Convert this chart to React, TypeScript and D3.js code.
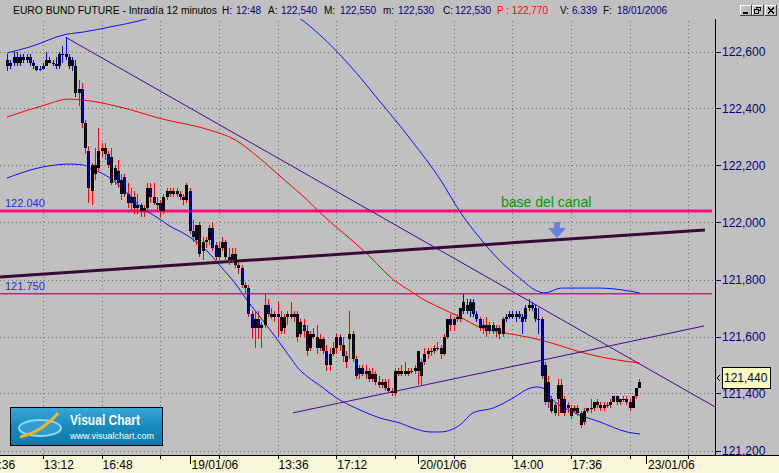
import * as d3 from 'd3';

const W = 779;
const H = 473;
const plotRight = 715;
const plotTop = 19;
const plotBottom = 455;

// 12-minute bars [open, high, low, close], 18/01/06 11:00 -> 20/01/06 close
const bars: [number, number, number, number][] = [
  [122.57, 122.59, 122.53, 122.55], [122.55, 122.57, 122.54, 122.56], [122.56, 122.60, 122.55, 122.58],
  [122.58, 122.60, 122.55, 122.56], [122.56, 122.59, 122.55, 122.58], [122.58, 122.59, 122.56, 122.57],
  [122.57, 122.59, 122.56, 122.58], [122.58, 122.59, 122.55, 122.56], [122.56, 122.57, 122.54, 122.55],
  [122.55, 122.55, 122.53, 122.535], [122.535, 122.55, 122.53, 122.54], [122.54, 122.56, 122.54, 122.55],
  [122.55, 122.60, 122.55, 122.57], [122.57, 122.58, 122.56, 122.56], [122.56, 122.57, 122.55, 122.555],
  [122.555, 122.58, 122.54, 122.55], [122.55, 122.60, 122.54, 122.59], [122.59, 122.62, 122.56, 122.59],
  [122.59, 122.65, 122.57, 122.58], [122.58, 122.59, 122.54, 122.55], [122.55, 122.58, 122.53, 122.57],
  [122.55, 122.57, 122.44, 122.455], [122.455, 122.50, 122.41, 122.47], [122.47, 122.49, 122.33, 122.35],
  [122.35, 122.36, 122.24, 122.26], [122.25, 122.27, 122.07, 122.12], [122.11, 122.21, 122.06, 122.20],
  [122.17, 122.26, 122.15, 122.20], [122.19, 122.33, 122.18, 122.25], [122.25, 122.28, 122.23, 122.26],
  [122.26, 122.28, 122.22, 122.24], [122.24, 122.25, 122.19, 122.20], [122.23, 122.26, 122.13, 122.14],
  [122.15, 122.20, 122.13, 122.19], [122.18, 122.22, 122.12, 122.14], [122.15, 122.17, 122.08, 122.10],
  [122.16, 122.17, 122.09, 122.10], [122.10, 122.14, 122.05, 122.07], [122.07, 122.12, 122.04, 122.09],
  [122.09, 122.11, 122.03, 122.05], [122.05, 122.10, 122.03, 122.06], [122.06, 122.07, 122.02, 122.04],
  [122.04, 122.06, 122.02, 122.05], [122.05, 122.14, 122.04, 122.12], [122.12, 122.14, 122.07, 122.09],
  [122.09, 122.14, 122.06, 122.07], [122.07, 122.09, 122.04, 122.06], [122.07, 122.08, 122.02, 122.04],
  [122.04, 122.10, 122.03, 122.09], [122.09, 122.12, 122.08, 122.11], [122.11, 122.12, 122.09, 122.10],
  [122.10, 122.12, 122.09, 122.11], [122.11, 122.12, 122.09, 122.10], [122.10, 122.11, 122.08, 122.09],
  [122.09, 122.10, 122.06, 122.08], [122.08, 122.14, 122.07, 122.13], [122.11, 122.12, 121.96, 121.97],
  [121.97, 122.01, 121.93, 121.95], [121.94, 121.99, 121.92, 121.99], [121.99, 122.00, 121.88, 121.89],
  [121.90, 121.95, 121.87, 121.93], [121.93, 121.95, 121.91, 121.94], [121.94, 121.99, 121.92, 121.98],
  [121.98, 122.00, 121.90, 121.91], [121.92, 121.93, 121.87, 121.88], [121.88, 121.93, 121.86, 121.91],
  [121.91, 121.95, 121.90, 121.93], [121.93, 121.94, 121.87, 121.88], [121.88, 121.91, 121.85, 121.87],
  [121.87, 121.91, 121.86, 121.89], [121.89, 121.91, 121.84, 121.85], [121.85, 121.86, 121.82, 121.84],
  [121.84, 121.85, 121.77, 121.78], [121.78, 121.79, 121.75, 121.77], [121.77, 121.78, 121.67, 121.68],
  [121.68, 121.69, 121.59, 121.63], [121.63, 121.69, 121.56, 121.66], [121.66, 121.69, 121.59, 121.63],
  [121.63, 121.65, 121.56, 121.64], [121.64, 121.75, 121.63, 121.71], [121.71, 121.73, 121.67, 121.68],
  [121.68, 121.70, 121.66, 121.67], [121.67, 121.69, 121.65, 121.68], [121.68, 121.72, 121.60, 121.67],
  [121.67, 121.69, 121.61, 121.62], [121.63, 121.68, 121.61, 121.67], [121.67, 121.69, 121.64, 121.68],
  [121.68, 121.72, 121.66, 121.67], [121.67, 121.69, 121.65, 121.68], [121.68, 121.69, 121.58, 121.60],
  [121.61, 121.66, 121.60, 121.65], [121.64, 121.66, 121.60, 121.62], [121.62, 121.64, 121.53, 121.55],
  [121.56, 121.62, 121.55, 121.61], [121.61, 121.63, 121.59, 121.60], [121.60, 121.64, 121.54, 121.56],
  [121.56, 121.61, 121.55, 121.59], [121.59, 121.60, 121.54, 121.55], [121.55, 121.57, 121.48, 121.50],
  [121.50, 121.56, 121.48, 121.54], [121.54, 121.58, 121.53, 121.56], [121.56, 121.61, 121.54, 121.60],
  [121.60, 121.61, 121.55, 121.57], [121.57, 121.60, 121.51, 121.53], [121.53, 121.55, 121.49, 121.51],
  [121.59, 121.69, 121.52, 121.61], [121.61, 121.62, 121.51, 121.52], [121.52, 121.53, 121.45, 121.46],
  [121.47, 121.50, 121.45, 121.49], [121.49, 121.50, 121.46, 121.47], [121.47, 121.50, 121.45, 121.48],
  [121.48, 121.49, 121.44, 121.45], [121.45, 121.49, 121.44, 121.47], [121.47, 121.48, 121.43, 121.44],
  [121.44, 121.46, 121.42, 121.43], [121.43, 121.45, 121.42, 121.44], [121.44, 121.45, 121.41, 121.42],
  [121.42, 121.45, 121.40, 121.41], [121.41, 121.42, 121.39, 121.40], [121.40, 121.49, 121.39, 121.48],
  [121.48, 121.49, 121.46, 121.47], [121.47, 121.50, 121.46, 121.48], [121.48, 121.51, 121.46, 121.47],
  [121.47, 121.49, 121.46, 121.48], [121.48, 121.49, 121.47, 121.48], [121.48, 121.50, 121.47, 121.49],
  [121.48, 121.55, 121.43, 121.55], [121.51, 121.52, 121.43, 121.46], [121.51, 121.56, 121.50, 121.54],
  [121.54, 121.56, 121.52, 121.55], [121.55, 121.56, 121.53, 121.55], [121.55, 121.57, 121.54, 121.56],
  [121.56, 121.58, 121.55, 121.56], [121.56, 121.57, 121.52, 121.54], [121.54, 121.61, 121.53, 121.60],
  [121.60, 121.66, 121.59, 121.66], [121.66, 121.68, 121.62, 121.64], [121.64, 121.67, 121.62, 121.66],
  [121.66, 121.68, 121.65, 121.67], [121.66, 121.70, 121.65, 121.70], [121.69, 121.75, 121.68, 121.72],
  [121.71, 121.73, 121.68, 121.69], [121.69, 121.73, 121.67, 121.72], [121.72, 121.73, 121.67, 121.68],
  [121.68, 121.69, 121.65, 121.66], [121.66, 121.67, 121.62, 121.63], [121.63, 121.66, 121.61, 121.64],
  [121.64, 121.67, 121.60, 121.62], [121.62, 121.65, 121.61, 121.64], [121.64, 121.65, 121.61, 121.62],
  [121.62, 121.64, 121.60, 121.63], [121.63, 121.64, 121.59, 121.61], [121.61, 121.67, 121.60, 121.66],
  [121.66, 121.68, 121.65, 121.67], [121.67, 121.69, 121.66, 121.68], [121.68, 121.69, 121.66, 121.67],
  [121.67, 121.69, 121.65, 121.68], [121.68, 121.69, 121.66, 121.67], [121.67, 121.68, 121.61, 121.65],
  [121.66, 121.71, 121.65, 121.70], [121.70, 121.73, 121.69, 121.71], [121.71, 121.72, 121.69, 121.70],
  [121.70, 121.71, 121.65, 121.66], [121.66, 121.70, 121.61, 121.66], [121.66, 121.67, 121.45, 121.46],
  [121.50, 121.51, 121.36, 121.37], [121.44, 121.46, 121.35, 121.37], [121.38, 121.39, 121.33, 121.34],
  [121.36, 121.37, 121.32, 121.33], [121.38, 121.45, 121.32, 121.43], [121.43, 121.45, 121.33, 121.33],
  [121.38, 121.39, 121.32, 121.33], [121.35, 121.37, 121.33, 121.36], [121.35, 121.36, 121.31, 121.32],
  [121.34, 121.36, 121.33, 121.35], [121.35, 121.36, 121.32, 121.33], [121.33, 121.34, 121.28, 121.29],
  [121.30, 121.35, 121.29, 121.34], [121.34, 121.35, 121.33, 121.35], [121.35, 121.38, 121.33, 121.35],
  [121.35, 121.37, 121.34, 121.37], [121.37, 121.38, 121.35, 121.36], [121.36, 121.37, 121.34, 121.35],
  [121.35, 121.37, 121.34, 121.36], [121.36, 121.37, 121.35, 121.36], [121.36, 121.38, 121.35, 121.37],
  [121.37, 121.39, 121.37, 121.39], [121.39, 121.39, 121.36, 121.37], [121.37, 121.38, 121.36, 121.38],
  [121.38, 121.39, 121.37, 121.38], [121.38, 121.39, 121.36, 121.37], [121.37, 121.38, 121.34, 121.35],
  [121.35, 121.39, 121.35, 121.39], [121.39, 121.42, 121.38, 121.42], [121.42, 121.45, 121.42, 121.44],
];

// indicator lines: [bar index, price]
const maLine: [number, number][] = [
  [0, 122.37], [11, 122.41], [19, 122.433], [23, 122.43], [31, 122.415], [38, 122.395], [47, 122.365],
  [62, 122.325], [70, 122.29], [77, 122.23], [85, 122.15], [92, 122.08], [96, 122.035], [110, 121.895],
  [119, 121.795], [123, 121.765], [127, 121.735], [133, 121.70], [139, 121.668], [145, 121.633],
  [153, 121.612], [161, 121.595], [167, 121.577], [177, 121.542], [187, 121.518], [194, 121.507],
];
const upperBand: [number, number][] = [
  [0, 122.595], [7, 122.616], [18.4, 122.661], [23.3, 122.668], [31.6, 122.686], [41.7, 122.711],
  [53, 122.753], [68, 122.774], [81, 122.753], [90, 122.714], [96, 122.658], [105, 122.553],
  [114, 122.43], [124, 122.289], [133, 122.149], [139, 122.037], [145, 121.946], [151, 121.868],
  [158, 121.798], [162, 121.763], [165, 121.753], [170, 121.77], [182, 121.77], [194, 121.753],
];
const lowerBand: [number, number][] = [
  [0, 122.156], [11, 122.195], [19.3, 122.205], [23.3, 122.202], [25.5, 122.191], [31.6, 122.156],
  [36.2, 122.111], [41.4, 122.051], [46.3, 122.016], [49.4, 121.991], [55.5, 121.953], [62.3, 121.889],
  [66, 121.84], [69.9, 121.788], [73.6, 121.728], [79.8, 121.637], [83.7, 121.577], [86.8, 121.528],
  [89.3, 121.489], [92.3, 121.458], [96.6, 121.423], [100.6, 121.388], [108.3, 121.342], [114.4, 121.314],
  [120.6, 121.296], [124.5, 121.279], [129.8, 121.265], [132.8, 121.265], [139, 121.29], [142.9, 121.332],
  [149.1, 121.349], [155.2, 121.384], [160.4, 121.419], [162.6, 121.423], [164.4, 121.419], [167.5, 121.377],
  [173.6, 121.335], [181.9, 121.30], [190.2, 121.265], [194.2, 121.258],
];

// hand-drawn lines
const downTrend: [number, number][] = [[18, 122.65], [217.2, 121.353]];
const upTrend: [number, number][] = [[87.7, 121.332], [213.8, 121.637]];
const channel: [number, number][] = [[-2.1, 121.809], [214.1, 121.974]];
const levels = [122.04, 121.75];
const levelLabels = ['122.040', '121.750'];

const yTicks = [122.6, 122.4, 122.2, 122.0, 121.8, 121.6, 121.4, 121.2];
const xTickBars = [-7, 11, 29, 47, 65, 83, 101, 119, 137, 155, 173, 191, 209];
const xTickLabels = ['09:36', '13:12', '16:48', '', '', '13:36', '17:12', '', '', '14:00', '17:36', '', ''];
const dayBars = [56, 126, 196];
const dayLabels = ['19/01/06', '20/01/06', '23/01/06'];

const header: [string, number, string][] = [
  ['EURO BUND FUTURE - Intradía 12 minutos', 13, '#000'],
  ['H:', 222, '#000'], ['12:48', 236, '#00007c'],
  ['A:', 268, '#000'], ['122,540', 281, '#00007c'],
  ['M:', 324, '#000'], ['122,550', 340, '#00007c'],
  ['m:', 383, '#000'], ['122,530', 398, '#00007c'],
  ['C:', 443, '#000'], ['122,530', 455, '#00007c'],
  ['P : 122,770', 497, '#ff0000'],
  ['V:', 560, '#000'], ['6.339', 572, '#00007c'],
  ['F:', 603, '#000'], ['18/01/2006', 617, '#00007c'],
];

const font = "'Liberation Sans', Arial, sans-serif";

export default function App() {
  const x = d3.scaleLinear().domain([0, 194]).range([7, 7 + 194 * 3.26]);
  const y = d3.scaleLinear().domain([121.2, 122.6]).range([450.5, 51.5]);
  const maAt = d3.scaleLinear().domain(maLine.map(d => d[0])).range(maLine.map(d => d[1])).clamp(true);

  const smooth = d3.line<[number, number]>().x(d => x(d[0])).y(d => y(d[1])).curve(d3.curveMonotoneX);
  const straight = d3.line<[number, number]>().x(d => x(d[0])).y(d => y(d[1]));

  const last = bars[bars.length - 1][3];
  const tagY = Math.round(y(last)) - 4;

  return (
    <svg width={W} height={H} viewBox={`0 0 ${W} ${H}`}
      style={{ position: 'absolute', left: 0, top: 0, display: 'block' }}>
      <defs>
        <clipPath id="plot">
          <rect x={0} y={plotTop} width={plotRight} height={plotBottom - plotTop} />
        </clipPath>
        <linearGradient id="vc" x1="0" y1="0" x2="0" y2="1">
          <stop offset="0" stopColor="#3aa8d6" />
          <stop offset="0.45" stopColor="#1a8cc0" />
          <stop offset="1" stopColor="#0f78aa" />
        </linearGradient>
      </defs>

      <rect width={W} height={H} fill="#c0c0c0" />

      {/* title bar */}
      <g fontFamily={font} fontSize={10}>
        {header.map(([t, hx, c], i) => (
          <text key={i} x={hx} y={14} fill={c}
            textLength={i === 0 ? 204 : undefined} lengthAdjust="spacingAndGlyphs">{t}</text>
        ))}
      </g>
      {[740, 752, 765].map((bx, i) => (
        <g key={i} shapeRendering="crispEdges">
          <rect x={bx + 0.5} y={5.5} width={11} height={10} fill="#c0c0c0" stroke="#404040" />
          <path d={`M${bx + 0.5},15 V5.5 H${bx + 11}`} stroke="#fff" fill="none" />
          {i === 0 && <rect x={bx + 3} y={12} width={5} height={2} fill="#000" />}
          {i === 1 && <g fill="none" stroke="#000">
            <rect x={bx + 4.5} y={7.5} width={4} height={3} />
            <rect x={bx + 2.5} y={9.5} width={4} height={4} fill="#c0c0c0" />
          </g>}
          {i === 2 && <path d={`M${bx + 3},8 L${bx + 9},13.5 M${bx + 9},8 L${bx + 3},13.5`} stroke="#000" strokeWidth={1.5} />}
        </g>
      ))}

      {/* grid */}
      <g stroke="#707070" strokeDasharray="1,3" shapeRendering="crispEdges">
        {yTicks.map(t => (
          <line key={t} x1={0} x2={plotRight} y1={Math.round(y(t)) + 0.5} y2={Math.round(y(t)) + 0.5} />
        ))}
        {xTickBars.map(b => (
          <line key={b} x1={Math.round(x(b)) + 0.5} x2={Math.round(x(b)) + 0.5} y1={plotTop + 2} y2={plotBottom} />
        ))}
      </g>

      <g clipPath="url(#plot)">
        {/* horizontal levels */}
        {levels.map((lv, i) => (
          <line key={lv} x1={0} x2={712} y1={y(lv)} y2={y(lv)} stroke="#ff0a80" strokeWidth={i === 0 ? 3 : 1.5} />
        ))}
        {levelLabels.map((t, i) => (
          <text key={t} x={5} y={y(levels[i]) - 4} fill="#2828e6" fontFamily={font} fontSize={11}>{t}</text>
        ))}

        <path d={smooth(upperBand) ?? ''} fill="none" stroke="#0a14ff" strokeWidth={1} />
        <path d={smooth(lowerBand) ?? ''} fill="none" stroke="#0a14ff" strokeWidth={1} />
        <path d={smooth(maLine) ?? ''} fill="none" stroke="#ff0000" strokeWidth={1} />

        <path d={straight(channel) ?? ''} fill="none" stroke="#3a0838" strokeWidth={3} />
        <path d={straight(downTrend) ?? ''} fill="none" stroke="#4a0a8a" strokeWidth={1} />
        <path d={straight(upTrend) ?? ''} fill="none" stroke="#4a0a8a" strokeWidth={1} />

        {/* candles */}
        <g shapeRendering="crispEdges">
          {bars.map(([o, h, l, c], i) => {
            const cx = Math.round(x(i));
            const wick = l > maAt(i) ? '#0000ff' : '#ff0000';
            const top = Math.round(y(Math.max(o, c)));
            const bh = Math.max(1, Math.round(y(Math.min(o, c))) - top);
            return (
              <g key={i}>
                <rect x={cx} y={Math.round(y(h))} width={1} height={Math.max(1, Math.round(y(l)) - Math.round(y(h)))} fill={wick} />
                <rect x={cx - 1} y={top} width={3} height={bh} fill="#000" />
                {c < o && bh > 2 && <rect x={cx} y={top + 1} width={1} height={bh - 2} fill="#0000a8" />}
              </g>
            );
          })}
        </g>

        {/* annotation */}
        <text x={501} y={207} fill="#009900" fontFamily={font} fontSize={14}>base del canal</text>
        <path d="M554,222 H560 V228 H566 L557,238 L548,228 H554 Z" fill="#6b7fe0" />
      </g>

      {/* logo */}
      <g>
        <rect x={10.5} y={407.5} width={152} height={38} fill="url(#vc)" stroke="#000" />
        <ellipse cx={40} cy={428} rx={21} ry={8} fill="#48b4e0" fillOpacity={0.5} stroke="#8fd8f4" strokeWidth={2} />
        <path d="M20,437 Q42,432 58,413" fill="none" stroke="#f2b42a" strokeWidth={3} />
        <text x={70} y={425} fill="#fff" fontFamily={font} fontSize={14} fontWeight="bold" textLength={70} lengthAdjust="spacingAndGlyphs">Visual Chart</text>
        <text x={70} y={439} fill="#fff" fontFamily={font} fontSize={9}>www.visualchart.com</text>
      </g>

      {/* right axis */}
      <line x1={plotRight + 0.5} x2={plotRight + 0.5} y1={plotTop} y2={plotBottom} stroke="#000" shapeRendering="crispEdges" />
      <g fontFamily={font} fontSize={12} fill="#000080">
        {yTicks.map(t => (
          <g key={t}>
            <line x1={plotRight + 1} x2={plotRight + 6} y1={Math.round(y(t)) + 0.5} y2={Math.round(y(t)) + 0.5} stroke="#000080" shapeRendering="crispEdges" />
            <text x={722} y={y(t)} dy="0.35em">{t.toFixed(3).replace('.', ',')}</text>
          </g>
        ))}
      </g>

      {/* last price tag */}
      <path d={`M720,${tagY - 3} L717,${tagY} L720,${tagY + 3}`} fill="none" stroke="#000" />
      <rect x={722.5} y={tagY - 10.5} width={48} height={21} fill="#ffffc0" stroke="#000" />
      <text x={724} y={tagY} dy="0.36em" fontFamily={font} fontSize={12} fill="#000030">{last.toFixed(3).replace('.', ',')}</text>

      {/* bottom axis */}
      <rect x={0} y={plotBottom} width={W} height={H - plotBottom} fill="#f8f8d8" />
      <line x1={0} x2={W} y1={plotBottom + 0.5} y2={plotBottom + 0.5} stroke="#000" shapeRendering="crispEdges" />
      <g fontFamily={font} fontSize={12} fill="#000">
        {xTickBars.map((b, i) => (
          <g key={b}>
            <line x1={Math.round(x(b)) + 0.5} x2={Math.round(x(b)) + 0.5} y1={plotBottom} y2={plotBottom + 4} stroke="#000" shapeRendering="crispEdges" />
            {xTickLabels[i] && <text x={x(b) + 1} y={469}>{xTickLabels[i]}</text>}
          </g>
        ))}
        {dayBars.map((b, i) => (
          <g key={b}>
            <line x1={Math.round(x(b)) + 0.5} x2={Math.round(x(b)) + 0.5} y1={plotBottom} y2={plotBottom + 9} stroke="#000" shapeRendering="crispEdges" />
            <text x={x(b) + 2} y={469}>{dayLabels[i]}</text>
          </g>
        ))}
      </g>
    </svg>
  );
}
